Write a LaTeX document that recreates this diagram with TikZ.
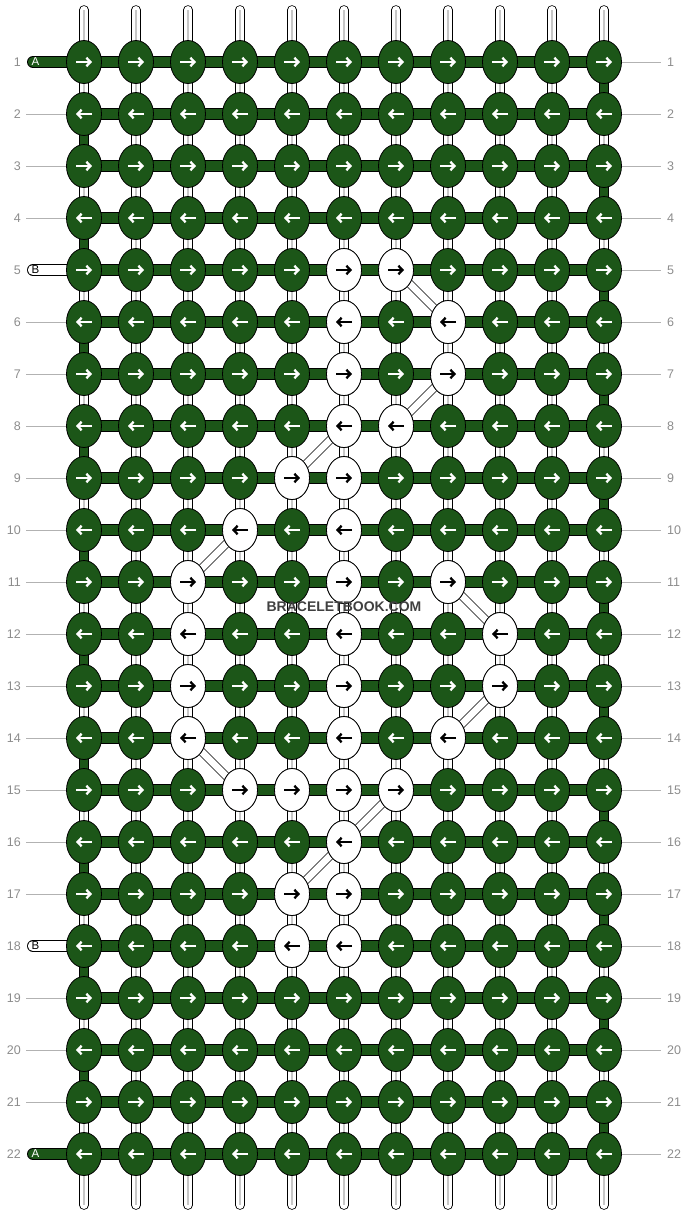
\documentclass[tikz,border=0pt]{standalone}
\usepackage{fontspec}
\setmainfont{Liberation Sans}
\usetikzlibrary{shapes.geometric,arrows.meta}
\definecolor{knotgreen}{RGB}{28,86,24}
\definecolor{labelgray}{RGB}{140,140,140}

\begin{document}
\begin{tikzpicture}[x=1pt,y=-1pt,
    warp/.style={double=white, double distance=8pt, line width=0.8pt, line cap=round},
    warpmid/.style={draw=black!22, line width=1.2pt},
    band/.style={double=knotgreen, double distance=10.4pt, line width=0.8pt},
    edgeband/.style={double=knotgreen, double distance=8.4pt, line width=0.8pt},
    diag/.style={double=white, double distance=7pt, line width=0.6pt},
    knot/.style={ellipse, draw=black, line width=0.8pt, fill=knotgreen, minimum width=35pt, minimum height=43pt, inner sep=0pt},
    wknot/.style={knot, fill=white},
    dir/.style={line width=2.3pt, -{Straight Barb[length=4pt,width=8.5pt]}},
    rowlbl/.style={text=labelgray, font=\fontsize{12.5}{14}\selectfont, inner sep=0pt},
    guide/.style={draw=black!30, line width=0.8pt}]
    \useasboundingbox (0,0) rectangle (688,1216);
    % grid of knot positions
    \foreach \r in {1,...,22}
        \foreach \c in {1,...,11}
            \coordinate (p-\r-\c) at ({84+52*(\c-1)},{62+52*(\r-1)});
    % vertical strings
    \foreach \c in {1,...,11} {
        \coordinate (t-\c) at ({84+52*(\c-1)},10);
        \coordinate (b-\c) at ({84+52*(\c-1)},1205);
        \draw [warp] (t-\c) -- (b-\c);
        \draw [warpmid] (t-\c) -- (b-\c);
    }
    % working thread
    \foreach \r in {1,...,22}
        \draw [band] (p-\r-1) -- (p-\r-11);
    \foreach \r in {1,22} {
        \coordinate (s-\r) at (33,{62+52*(\r-1)});
        \draw [band, line cap=round] (s-\r) -- (p-\r-1);
        \node [text=white, font=\fontsize{11.5}{12}\selectfont, inner sep=0pt] (sl-\r) at (35.5,{62+52*(\r-1)}) {A};
    }
    \foreach \r in {5,18} {
        \coordinate (s-\r) at (33,{62+52*(\r-1)});
        \draw [band, double=white, line cap=round] (s-\r) -- (p-\r-1);
        \node [text=black, font=\fontsize{11.5}{12}\selectfont, inner sep=0pt] (sl-\r) at (35.5,{62+52*(\r-1)}) {B};
    }
    \foreach \r [evaluate=\r as \n using int(\r+1)] in {1,3,...,21}
        \draw [edgeband] (p-\r-11) -- (p-\n-11);
    \foreach \r [evaluate=\r as \n using int(\r+1)] in {2,4,...,20}
        \draw [edgeband] (p-\r-1) -- (p-\n-1);
    % diagonal strings
    \foreach \ra/\ca/\rb/\cb in {5/7/6/8, 7/8/8/7, 8/6/9/5, 10/4/11/3, 11/8/12/9,
            13/9/14/8, 14/3/15/4, 15/7/16/6, 16/6/17/5}
        \draw [diag] (p-\ra-\ca) -- (p-\rb-\cb);
    % knots
    \foreach \r in {1,...,22} {
        \pgfmathsetmacro\xa{mod(\r,2)==1 ? -8 : 8}
        \pgfmathsetmacro\xb{mod(\r,2)==1 ? 8 : -8}
        \foreach \c in {1,...,11} {
            \node [knot] (k-\r-\c) at (p-\r-\c) {};
            \draw [dir, white] ([xshift=\xa pt]k-\r-\c.center) -- ([xshift=\xb pt]k-\r-\c.center);
        }
    }
    \foreach \r/\cols in {5/{6,7}, 6/{6,8}, 7/{6,8}, 8/{6,7}, 9/{5,6}, 10/{4,6}, 11/{3,6,8},
            12/{3,6,9}, 13/{3,6,9}, 14/{3,6,8}, 15/{4,5,6,7}, 16/{6}, 17/{5,6}, 18/{5,6}} {
        \pgfmathsetmacro\xa{mod(\r,2)==1 ? -8 : 8}
        \pgfmathsetmacro\xb{mod(\r,2)==1 ? 8 : -8}
        \foreach \c in \cols {
            \node [wknot] (w-\r-\c) at (p-\r-\c) {};
            \draw [dir, black] ([xshift=\xa pt]w-\r-\c.center) -- ([xshift=\xb pt]w-\r-\c.center);
        }
    }
    % row numbers
    \foreach \r in {1,...,22} {
        \node [rowlbl, anchor=east] (ll-\r) at (21,{62+52*(\r-1)}) {\r};
        \node [rowlbl, anchor=west] (rl-\r) at (667,{62+52*(\r-1)}) {\r};
        \coordinate (gr-\r) at (661,{62+52*(\r-1)});
        \draw [guide] (k-\r-11.east) -- (gr-\r);
    }
    \foreach \r in {2,3,4,6,7,...,17,19,20,21} {
        \coordinate (gl-\r) at (26,{62+52*(\r-1)});
        \draw [guide] (gl-\r) -- (k-\r-1.west);
    }
    \node [font=\bfseries\fontsize{14}{16}\selectfont, text=black!75, inner sep=1pt] (mark) at (344,607) {BRACELETBOOK.COM};
\end{tikzpicture}
\end{document}
